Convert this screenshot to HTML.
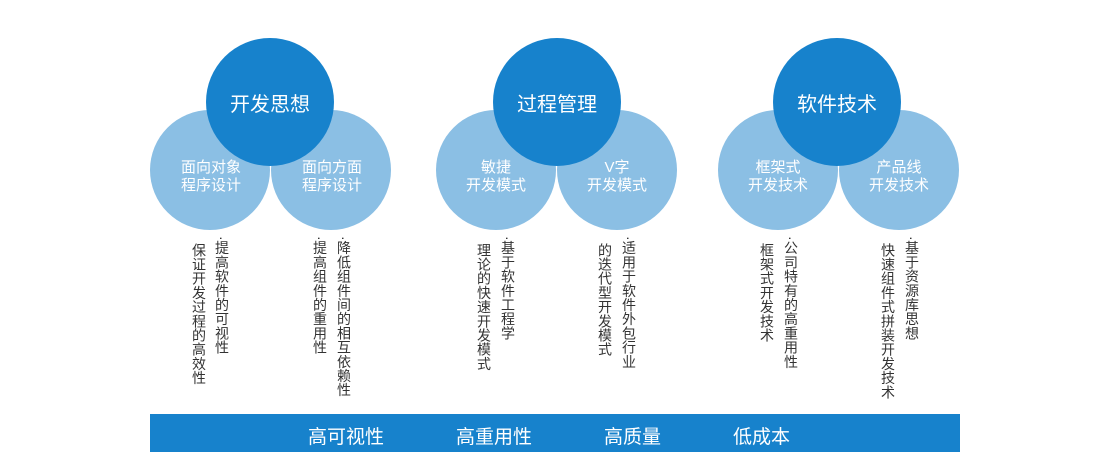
<!DOCTYPE html>
<html><head><meta charset="utf-8"><style>
body{margin:0;width:1110px;height:452px;background:#fff;position:relative;overflow:hidden;font-family:"Liberation Sans","Noto Sans CJK SC",sans-serif;}
.c{position:absolute;border-radius:50%;display:flex;align-items:center;justify-content:center;color:#fff;text-align:center;}
.l{background:#8bbfe4;width:120px;height:120px;z-index:1;}
.d{background:#1782cc;width:128px;height:128px;font-size:20px;z-index:2;}
.t{position:absolute;width:120px;text-align:center;color:#fff;font-size:15px;line-height:18px;z-index:3;}
.v{position:absolute;writing-mode:vertical-rl;font-size:14px;line-height:14px;color:#333;letter-spacing:0.2px;}
.bar{position:absolute;left:150px;top:414px;width:810px;height:38px;background:#1782cc;color:#fff;font-size:19px;}
.bar span{position:absolute;top:8px;}
</style></head><body>
<div class="c l" style="left:150px;top:110px"></div>
<div class="c l" style="left:271px;top:110px"></div>
<div class="c d" style="left:206px;top:38px">开发思想</div>
<div class="t" style="left:151px;top:159px">面向对象<br>程序设计</div>
<div class="t" style="left:272px;top:159px">面向方面<br>程序设计</div>

<div class="c l" style="left:436px;top:110px"></div>
<div class="c l" style="left:557px;top:110px"></div>
<div class="c d" style="left:493px;top:38px">过程管理</div>
<div class="t" style="left:436px;top:159px">敏捷<br>开发模式</div>
<div class="t" style="left:557px;top:159px">V字<br>开发模式</div>

<div class="c l" style="left:718px;top:110px"></div>
<div class="c l" style="left:839px;top:110px"></div>
<div class="c d" style="left:773px;top:38px">软件技术</div>
<div class="t" style="left:718px;top:159px">框架式<br>开发技术</div>
<div class="t" style="left:839px;top:159px">产品线<br>开发技术</div>

<div class="v" style="left:192px;top:243px">保证开发过程的高效性</div>
<div class="v" style="left:215px;top:236px">·提高软件的可视性</div>
<div class="v" style="left:313px;top:236px">·提高组件的重用性</div>
<div class="v" style="left:337px;top:236px">·降低组件间的相互依赖性</div>

<div class="v" style="left:477px;top:243px">理论的快速开发模式</div>
<div class="v" style="left:501px;top:236px">·基于软件工程学</div>
<div class="v" style="left:598px;top:243px">的迭代型开发模式</div>
<div class="v" style="left:622px;top:236px">·适用于软件外包行业</div>

<div class="v" style="left:760px;top:243px">框架式开发技术</div>
<div class="v" style="left:784px;top:236px">·公司特有的高重用性</div>
<div class="v" style="left:881px;top:243px">快速组件式拼装开发技术</div>
<div class="v" style="left:905px;top:236px">·基于资源库思想</div>

<div class="bar">
<span style="left:158px">高可视性</span>
<span style="left:306px">高重用性</span>
<span style="left:454px">高质量</span>
<span style="left:583px">低成本</span>
</div>
</body></html>
